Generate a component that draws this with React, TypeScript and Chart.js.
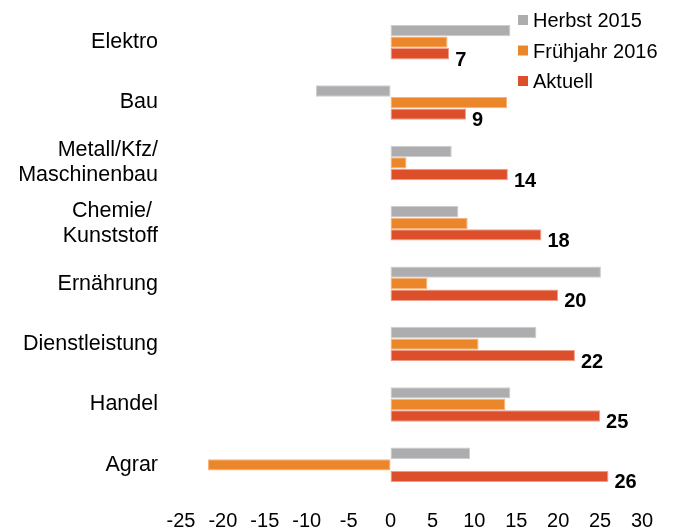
import React, { useEffect, useRef } from "react";
import { Chart, registerables } from "chart.js";

Chart.register(...registerables);

const categories: (string | string[])[] = [
  "Elektro",
  "Bau",
  ["Metall/Kfz/", "Maschinenbau"],
  ["Chemie/ ", "Kunststoff"],
  "Ernährung",
  "Dienstleistung",
  "Handel",
  "Agrar",
];
const seriesNames = ["Herbst 2015", "Frühjahr 2016", "Aktuell"];
const herbst2015 = [14.3, -8.9, 7.3, 8.1, 25.1, 17.4, 14.3, 9.5];
const fruehjahr2016 = [6.8, 13.9, 1.9, 9.2, 4.4, 10.5, 13.7, -21.8];
const aktuell = [7, 9, 14, 18, 20, 22, 25, 26];
const xMin = -25;
const xMax = 30;
const xStep = 5;

const FONT = "'Liberation Sans', Arial, Helvetica, sans-serif";
const fills = ["#ADADB0", "#EB872A", "#DD4F2B"];
const borders = ["#CDCDCF", "#F4B27C", "#EE9F8B"];

const valueLabelPlugin = {
  id: "valueLabels",
  afterDatasetsDraw(chart: any) {
    const ctx = chart.ctx;
    const meta = chart.getDatasetMeta(2);
    ctx.save();
    ctx.font = `bold 20px ${FONT}`;
    ctx.fillStyle = "#000";
    ctx.textAlign = "left";
    ctx.textBaseline = "alphabetic";
    meta.data.forEach((bar: any, i: number) => {
      const v = chart.data.datasets[2].data[i];
      ctx.fillText(String(v), bar.x + 6, bar.y + 12);
    });
    ctx.restore();
  },
};

const legendPlugin = {
  id: "customLegend",
  afterDraw(chart: any) {
    const ctx = chart.ctx;
    ctx.save();
    ctx.font = `20px ${FONT}`;
    ctx.textAlign = "left";
    ctx.textBaseline = "alphabetic";
    chart.data.datasets.forEach((ds: any, i: number) => {
      const top = 15 + i * 30.5;
      ctx.fillStyle = ds.backgroundColor;
      ctx.fillRect(518, top, 10, 10);
      ctx.fillStyle = "#000";
      ctx.fillText(ds.label, 533, top + 12);
    });
    ctx.restore();
  },
};

export default function App() {
  const canvasRef = useRef<HTMLCanvasElement | null>(null);

  useEffect(() => {
    if (!canvasRef.current) return;
    const chart = new Chart(canvasRef.current, {
      type: "bar",
      data: {
        labels: categories as any,
        datasets: [herbst2015, fruehjahr2016, aktuell].map((d, i) => ({
          label: seriesNames[i],
          data: d,
          backgroundColor: fills[i],
          borderColor: borders[i],
          borderWidth: 1,
          borderSkipped: false,
          categoryPercentage: 0.575,
          barPercentage: 0.98,
        })),
      },
      options: {
        indexAxis: "y",
        animation: false,
        responsive: true,
        maintainAspectRatio: false,
        layout: { padding: { top: 12, right: 36, left: 0, bottom: 0 } },
        plugins: {
          legend: { display: false },
          tooltip: { enabled: false },
        },
        scales: {
          x: {
            type: "linear",
            min: xMin,
            max: xMax,
            grid: { display: false, drawTicks: false },
            border: { display: false },
            ticks: {
              stepSize: xStep,
              padding: 14,
              color: "#000",
              font: { family: FONT, size: 20 },
            },
            afterFit: (s: any) => {
              s.height = 36;
              s.paddingLeft = 0;
              s.paddingRight = 0;
            },
          },
          y: {
            type: "category",
            offset: true,
            grid: { display: false, drawTicks: false },
            border: { display: false },
            ticks: {
              padding: 23,
              color: "#000",
              font: { family: FONT, size: 21.5, lineHeight: 1.16 },
            },
            afterFit: (s: any) => {
              s.width = 181;
              s.paddingTop = 0;
              s.paddingBottom = 0;
            },
          },
        },
      },
      plugins: [valueLabelPlugin, legendPlugin],
    } as any);
    return () => chart.destroy();
  }, []);

  return (
    <div
      style={{
        position: "fixed",
        left: 0,
        top: 0,
        width: 678,
        height: 531,
        background: "#fff",
      }}
    >
      <canvas ref={canvasRef} />
    </div>
  );
}
